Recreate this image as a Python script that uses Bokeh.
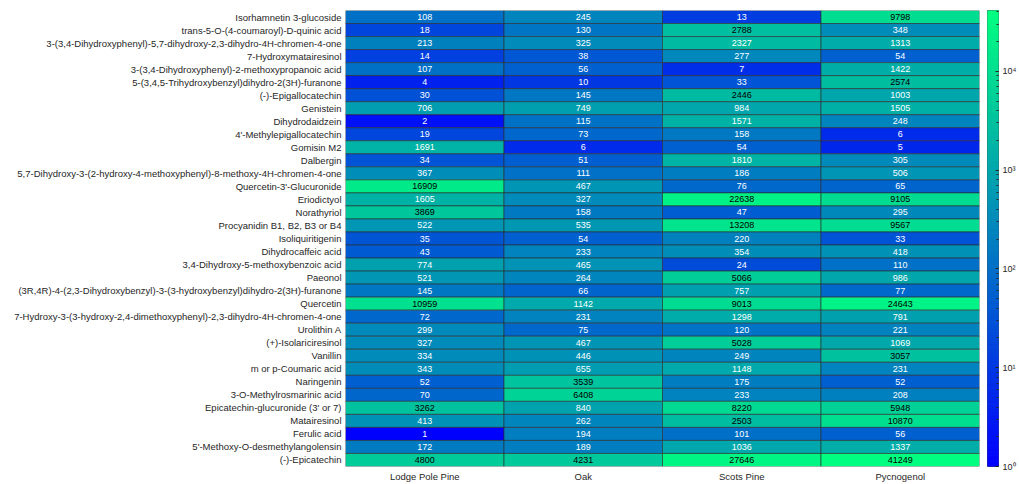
import math
from bokeh.plotting import figure
from bokeh.models import ColumnDataSource, LogColorMapper, LogTicker, FactorRange, Range1d
from bokeh.layouts import row
from bokeh.core.properties import value
from bokeh.embed import file_html
from bokeh.resources import INLINE

columns = ["Lodge Pole Pine", "Oak", "Scots Pine", "Pycnogenol"]

compounds = [
    "Isorhamnetin 3-glucoside",
    "trans-5-O-(4-coumaroyl)-D-quinic acid",
    "3-(3,4-Dihydroxyphenyl)-5,7-dihydroxy-2,3-dihydro-4H-chromen-4-one",
    "7-Hydroxymatairesinol",
    "3-(3,4-Dihydroxyphenyl)-2-methoxypropanoic acid",
    "5-(3,4,5-Trihydroxybenzyl)dihydro-2(3H)-furanone",
    "(-)-Epigallocatechin",
    "Genistein",
    "Dihydrodaidzein",
    "4'-Methylepigallocatechin",
    "Gomisin M2",
    "Dalbergin",
    "5,7-Dihydroxy-3-(2-hydroxy-4-methoxyphenyl)-8-methoxy-4H-chromen-4-one",
    "Quercetin-3'-Glucuronide",
    "Eriodictyol",
    "Norathyriol",
    "Procyanidin B1, B2, B3 or B4",
    "Isoliquiritigenin",
    "Dihydrocaffeic acid",
    "3,4-Dihydroxy-5-methoxybenzoic acid",
    "Paeonol",
    "(3R,4R)-4-(2,3-Dihydroxybenzyl)-3-(3-hydroxybenzyl)dihydro-2(3H)-furanone",
    "Quercetin",
    "7-Hydroxy-3-(3-hydroxy-2,4-dimethoxyphenyl)-2,3-dihydro-4H-chromen-4-one",
    "Urolithin A",
    "(+)-Isolariciresinol",
    "Vanillin",
    "m or p-Coumaric acid",
    "Naringenin",
    "3-O-Methylrosmarinic acid",
    "Epicatechin-glucuronide (3' or 7)",
    "Matairesinol",
    "Ferulic acid",
    "5'-Methoxy-O-desmethylangolensin",
    "(-)-Epicatechin",
]

lodge_pole_pine = [108, 18, 213, 14, 107, 4, 30, 706, 2, 19, 1691, 34, 367, 16909, 1605, 3869, 522,
                   35, 43, 774, 521, 145, 10959, 72, 299, 327, 334, 343, 52, 70, 3262, 413, 1, 172, 4800]
oak = [245, 130, 325, 38, 56, 10, 145, 749, 115, 73, 6, 51, 111, 467, 327, 158, 535,
       54, 233, 465, 264, 66, 1142, 231, 75, 467, 446, 655, 3539, 6408, 840, 262, 194, 189, 4231]
scots_pine = [13, 2788, 2327, 277, 7, 33, 2446, 984, 1571, 158, 54, 1810, 186, 76, 22638, 47, 13208,
              220, 354, 24, 5066, 757, 9013, 1298, 120, 5028, 249, 1148, 175, 233, 8220, 2503, 101, 1036, 27646]
pycnogenol = [9798, 348, 1313, 54, 1422, 2574, 1003, 1505, 248, 6, 5, 305, 506, 65, 9105, 295, 9567,
              33, 418, 110, 986, 77, 24643, 791, 221, 1069, 3057, 231, 52, 208, 5948, 10870, 56, 1337, 41249]

colorbar_ticks = [1, 10, 100, 1000, 10000]
colorbar_tick_labels = ["10⁰", "10¹", "10²", "10³", "10⁴"]

series = [lodge_pole_pine, oak, scots_pine, pycnogenol]

xs, ys, vals, labels, tcols = [], [], [], [], []
for cname, svals in zip(columns, series):
    for comp, v in zip(compounds, svals):
        xs.append(cname)
        ys.append(comp)
        vals.append(v)
        labels.append(str(v))
        tcols.append("black" if v >= 2400 else "white")

src = ColumnDataSource(dict(x=xs, y=ys, v=vals, label=labels, tc=tcols))

# MATLAB "winter" colormap
N = 256
palette = []
for i in range(N):
    t = i / (N - 1)
    palette.append("#%02x%02x%02x" % (0, int(round(255 * t)), int(round(255 * (1 - 0.5 * t)))))

vmin = 1
vmax = max(max(s) for s in series)
mapper = LogColorMapper(palette=palette, low=vmin, high=vmax)

p = figure(width=987, height=484, output_backend="svg", toolbar_location=None,
           x_range=FactorRange(*columns), y_range=FactorRange(*reversed(compounds)),
           min_border_left=345, min_border_top=10, min_border_right=8, min_border_bottom=18)

p.rect(x="x", y="y", width=1, height=1, source=src,
       fill_color={"field": "v", "transform": mapper},
       line_color="#2b2b2b", line_width=0.6)

p.text(x="x", y="y", text="label", source=src, text_color="tc",
       text_align="center", text_baseline="middle",
       text_font=value("Liberation Sans"), text_font_size="9px")

for ax in (p.xaxis, p.yaxis):
    ax.axis_line_color = None
    ax.major_tick_line_color = None
    ax.minor_tick_line_color = None
    ax.major_tick_out = 0
    ax.major_tick_in = 0
    ax.major_label_text_font = "Liberation Sans"
    ax.major_label_text_font_size = "9.5px"
    ax.major_label_text_color = "#262626"
p.xaxis.major_label_standoff = 4
p.yaxis.major_label_standoff = 4
p.xgrid.grid_line_color = None
p.ygrid.grid_line_color = None
p.outline_line_color = None

# colour bar as its own small log-scaled figure
lmin, lmax = math.log10(vmin), math.log10(vmax)
bottoms = [10 ** (lmin + (lmax - lmin) * i / N) for i in range(N)]
tops = [10 ** (lmin + (lmax - lmin) * (i + 1) / N) for i in range(N)]
cb_src = ColumnDataSource(dict(bottom=bottoms, top=tops, color=palette))

cb = figure(width=32, height=484, output_backend="svg", toolbar_location=None,
            x_range=Range1d(0, 1), y_range=Range1d(vmin, vmax), y_axis_type="log",
            x_axis_location=None, y_axis_location="right",
            min_border_left=0, min_border_top=10, min_border_right=17, min_border_bottom=18)
cb.quad(left=0, right=1, bottom="bottom", top="top", fill_color="color",
        line_color="color", line_width=1, source=cb_src)
cb.xgrid.grid_line_color = None
cb.ygrid.grid_line_color = None
cb.outline_line_color = "#262626"
cb.outline_line_width = 0.8
cb.yaxis.ticker = LogTicker(num_minor_ticks=10)
cb.yaxis.axis_line_color = None
cb.yaxis.major_tick_in = 3
cb.yaxis.major_tick_out = 0
cb.yaxis.minor_tick_in = 2
cb.yaxis.minor_tick_out = 0
cb.yaxis.major_tick_line_color = "#262626"
cb.yaxis.minor_tick_line_color = "#262626"
cb.yaxis.major_label_standoff = 4
cb.yaxis.major_label_text_font = "Liberation Sans"
cb.yaxis.major_label_text_font_size = "9px"
cb.yaxis.major_label_text_color = "#262626"
cb.yaxis.major_label_overrides = dict(zip(colorbar_ticks, colorbar_tick_labels))

layout = row(p, cb)
open("out.html", "w").write(file_html(layout, INLINE))
